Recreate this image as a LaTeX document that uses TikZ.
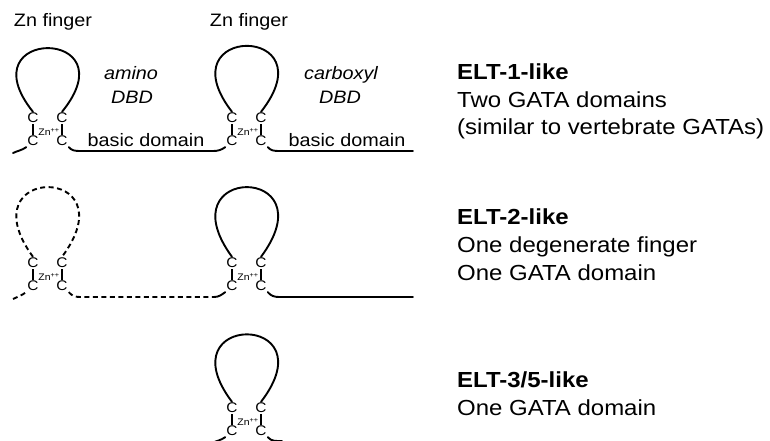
\documentclass[tikz,border=0pt]{standalone}
\usepackage{fontspec}
\setmainfont{Liberation Sans}[FakeStretch=1.1]
\begin{document}
\begin{tikzpicture}[x=1pt,y=1pt,
  chain/.style={line width=1.9pt,line cap=round},
  bond/.style={line width=1.9pt},
  dashedchain/.style={dash pattern=on 5pt off 3.5pt,line cap=butt},
  cnode/.style={inner sep=1pt,font=\fontsize{14}{15}\selectfont},
  znnode/.style={inner sep=0pt,font=\fontsize{9.5}{10}\selectfont},
  lbl/.style={inner sep=0pt,anchor=base,font=\fontsize{18}{20}\selectfont},
  ilbl/.style={lbl,font=\fontsize{18}{20}\selectfont\itshape},
  rtitle/.style={inner sep=0pt,anchor=base west,font=\fontsize{21.8}{24}\selectfont\bfseries},
  rtext/.style={inner sep=0pt,anchor=base west,font=\fontsize{21.8}{24}\selectfont}]
\useasboundingbox (0,0) rectangle (770,-441);
\newcommand\gfinger[5]{%
  \node[cnode] (#1ul) at (#2-15,#3) {C};
  \node[cnode] (#1ur) at (#2+14,#3) {C};
  \node[cnode] (#1ll) at (#2-15,#3-23) {C};
  \node[cnode] (#1lr) at (#2+14,#3-23) {C};
  \node[znnode] (#1zn) at (#2+1,#3-14) {Zn\textsuperscript{++}};
  \draw[bond] (#1ul) -- (#1ll);
  \draw[bond] (#1ur) -- (#1lr);
  \draw[chain,#5] (#1ul.north) .. controls +(-68,#4) and +(69,#4) .. (#1ur.north);
}
% ---------- row 1 ----------
\gfinger{fa}{48}{-118}{85}{}
\gfinger{fb}{247}{-118}{88}{}
\coordinate (r1s) at (13,-153);
\coordinate (r1a) at (80,-151);
\coordinate (r1b) at (213,-151);
\coordinate (r1c) at (279,-151);
\coordinate (r1e) at (413,-151);
\draw[chain] (r1s) to[out=25,in=215] (fall.south west);
\draw[chain] (falr.south east) to[out=-50,in=180] (r1a) -- (r1b) to[out=0,in=215] (fbll.south west);
\draw[chain] (fblr.south east) to[out=-50,in=180] (r1c) -- (r1e);
\node[lbl] (zf1) at (53,-27) {Zn finger};
\node[lbl] (zf2) at (249,-27) {Zn finger};
\node[ilbl] (amino) at (131,-80) {amino};
\node[ilbl] (dbd1) at (132,-103) {DBD};
\node[ilbl] (carb) at (341,-80) {carboxyl};
\node[ilbl] (dbd2) at (340,-103) {DBD};
\node[lbl] (bd1) at (146,-146) {basic domain};
\node[lbl] (bd2) at (347,-146) {basic domain};
\node[rtitle] (t1) at (457,-80) {ELT-1-like};
\node[rtext] (t1a) at (457,-107) {Two GATA domains};
\node[rtext] (t1b) at (457,-134) {(similar to vertebrate GATAs)};
% ---------- row 2 ----------
\gfinger{ga}{48}{-263}{93}{dashedchain}
\gfinger{gb}{247}{-263}{93}{}
\coordinate (r2s) at (13,-299);
\coordinate (r2a) at (80,-297);
\coordinate (r2b) at (214,-297);
\coordinate (r2c) at (279,-297);
\coordinate (r2e) at (413,-297);
\draw[chain,dashedchain] (r2s) to[out=25,in=215] (gall.south west);
\draw[chain,dashedchain] (galr.south east) to[out=-50,in=180] (r2a) -- (r2b);
\draw[chain] (r2b) to[out=0,in=215] (gbll.south west);
\draw[chain] (gblr.south east) to[out=-50,in=180] (r2c) -- (r2e);
\node[rtitle] (t2) at (457,-224) {ELT-2-like};
\node[rtext] (t2a) at (457,-252) {One degenerate finger};
\node[rtext] (t2b) at (457,-280) {One GATA domain};
% ---------- row 3 ----------
\gfinger{hb}{247}{-408}{90}{}
\coordinate (r3s) at (212,-443);
\coordinate (r3c) at (282,-441);
\draw[chain] (r3s) to[out=25,in=215] (hbll.south west);
\draw[chain] (hblr.south east) to[out=-50,in=180] (r3c);
\node[rtitle] (t3) at (457,-387) {ELT-3/5-like};
\node[rtext] (t3a) at (457,-415) {One GATA domain};
\end{tikzpicture}
\end{document}
